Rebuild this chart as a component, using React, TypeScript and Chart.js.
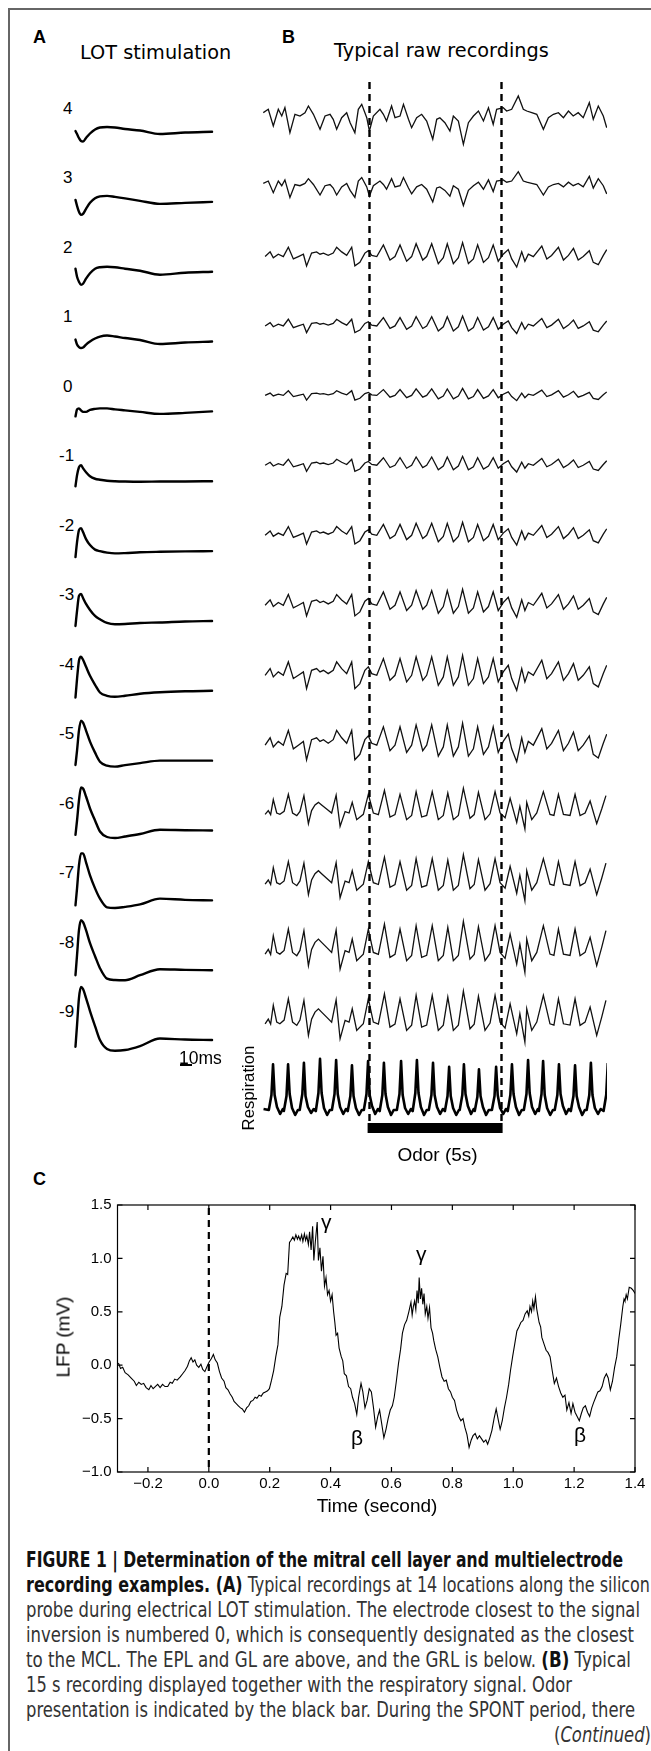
import React, { useEffect, useLayoutEffect, useRef } from 'react';
import { Chart, registerables } from 'chart.js';

Chart.register(...registerables);
if (typeof document !== 'undefined') document.body.style.margin = '0';

// ---------------- Panel A: LOT stimulation (evoked potentials) ----------------
const lotLabels = ['4', '3', '2', '1', '0', '-1', '-2', '-3', '-4', '-5', '-6', '-7', '-8', '-9'];
const lotTimeMs = [0.4, 1.7, 3.3, 5.0, 6.7, 9.2, 12.5, 16.7, 20.8, 26.7, 33.3, 41.7, 54.2, 70.8, 91.7, 114.2];
const lotP4 = [1, -2, -6, -9, -9.5, -6, -1.5, 2.5, 4.5, 5, 4.5, 3, 1.5, -2, -0.5, 0.3];
const lotP3 = [2, -4, -10, -13, -12, -7, -1, 3.5, 5.5, 6, 5, 3.5, 1, -2, -1, 0];
const lotP2 = [3, -5, -10, -13, -12, -7, -1.5, 3, 4.5, 5, 4.5, 3, 1, -3, -1, 0];
const lotP1 = [2, -3, -5.5, -6.5, -6, -3, 0, 3, 5, 6, 5, 3.5, 1.5, -2.5, -1, 0];
const lotZ0 = [-5, 2, 3, 1, -0.5, -0.5, 1.5, 2.5, 3, 3, 2, 1, -0.5, -2.5, -1.5, 0];
const lotM1 = [-5, 6, 14, 16, 13, 9, 5, 2.5, 1.5, 0.5, 0, -0.3, -0.5, -0.3, -0.2, 0];
const lotM2 = [-6, 9, 21, 23, 19, 12, 6, 1.5, 0, -1.5, -2.3, -2, -1.2, -0.7, -0.3, 0];
const lotM3 = [-5, 10, 25, 27, 23, 17, 11, 5, 1.7, -2, -3.3, -3, -2, -1.5, -0.5, 0];
const lotM4 = [-6.7, 12, 30, 34, 31, 24, 15, 6, -1.7, -5, -6, -5, -3, -1.5, -0.5, 0];
const lotM5 = [-4.3, 10, 30, 40, 38, 30, 19, 8, -1, -5, -6, -4.5, -2.5, 0, 0, 0];
const lotM6 = [-4.3, 10, 30, 43, 42, 34, 22, 10, -1, -6.5, -7.5, -6, -3.5, 0.7, 0.3, 0];
const lotM7 = [-5, 12, 35, 47, 47, 38, 25, 12, 1.7, -7, -7.7, -6.5, -4, 1.7, 0.5, 0];
const lotM8 = [-5, 15, 40, 50, 48, 40, 27, 14, 2, -8.5, -9.8, -10, -5, 1, 0.3, 0];
const lotM9 = [-6.7, 15, 42, 53, 51, 42, 29, 14, 0, -9, -10.7, -10, -6, 1.5, 0.5, 0];
const lotTraces = [lotP4, lotP3, lotP2, lotP1, lotZ0, lotM1, lotM2, lotM3, lotM4, lotM5, lotM6, lotM7, lotM8, lotM9];
const lotScaleBarMs = 10;

// ---------------- Panel B: raw recordings (time in s, amplitude in a.u.) ----------------
const recUpper: [number, number][] = [
  [0.01, 3.3], [0.20, 6.7], [0.39, -10], [0.58, 6.7], [0.71, 0], [0.83, 8.3], [1.02, -16.7], [1.21, 1.7],
  [1.40, 0], [1.59, 3.3], [1.72, 10], [1.91, 1.7], [2.16, -13.3], [2.35, 0], [2.54, 1.7], [2.66, -3.3],
  [2.79, -13.3], [2.98, -1.7], [3.17, 3.3], [3.30, -6.7], [3.48, -16.7], [3.61, 6.7], [3.74, 11.7], [3.93, -1.7],
  [4.03, -15], [4.18, 0], [4.43, 6.7], [4.56, 1.7], [4.68, -5], [4.87, 10], [5.00, -1.7], [5.19, 0],
  [5.32, 11.7], [5.51, -3.3], [5.63, -11.7], [5.82, -1.7], [6.01, 1.7], [6.20, -5], [6.43, -23.3], [6.58, -3.3],
  [6.70, -1.7], [6.89, -6.7], [7.08, -15], [7.21, 0], [7.40, -5], [7.59, -28.3], [7.78, -6.7], [7.97, 0],
  [8.16, 5], [8.35, -5], [8.54, 8.3], [8.72, -8.3], [8.85, 6.7], [9.10, 8.3], [9.23, 5], [9.42, 6.7],
  [9.67, 20], [9.86, 6.7], [9.99, 5], [10.18, 3.3], [10.37, 1.7], [10.62, -13.3], [10.81, -1.7], [11.00, 1.7],
  [11.19, 3.3], [11.38, -1.7], [11.57, 5], [11.75, 0], [11.94, 3.3], [12.13, -1.7], [12.36, 13.3], [12.51, -3.3],
  [12.70, 10], [12.89, 0], [13.02, -11.7],
];
const recMiddle: [number, number][] = [
  [0.08, -1.7], [0.27, 5], [0.39, -3.3], [0.58, 1.7], [0.77, -1.7], [0.96, 11.7], [1.15, -5], [1.34, -1.7],
  [1.53, 1.7], [1.65, -15], [1.84, 3.3], [2.03, 5], [2.16, 1.7], [2.29, 3.3], [2.47, 0], [2.66, 3.3],
  [2.79, 11.7], [2.98, 5], [3.17, 0], [3.36, 11.7], [3.48, -15], [3.67, -10], [3.86, 3.3], [3.99, 6.7],
  [4.12, 0], [4.31, -1.7], [4.56, 15], [4.81, -6.7], [5.00, -1.7], [5.19, 15], [5.44, -8.3], [5.63, -1.7],
  [5.80, 16.7], [6.05, -6.7], [6.20, -1.7], [6.39, 16.7], [6.64, -11.7], [6.83, -3.3], [6.98, 16.7], [7.21, -11.7],
  [7.40, -3.3], [7.56, 18.3], [7.78, -11.7], [7.97, -5], [8.13, 15], [8.35, -10], [8.54, -3.3], [8.72, 15],
  [8.91, -8.3], [9.10, 1.7], [9.29, 8.3], [9.42, -5], [9.61, -16.7], [9.80, 5], [9.92, -8.3], [10.05, 1.7],
  [10.24, -1.7], [10.56, 13.3], [10.75, -5], [10.93, 0], [11.19, 11.7], [11.38, -6.7], [11.57, 0], [11.76, 10],
  [11.94, -6.7], [12.13, -1.7], [12.36, 6.7], [12.51, -10], [12.70, -13.3], [12.89, 0], [13.02, 8.3],
];
const recDeep: [number, number][] = [
  [0.08, -1.7], [0.20, 3], [0.29, -2], [0.39, 16.7], [0.52, 0], [0.64, -1.7], [0.80, 2], [0.96, 23.3],
  [1.12, 0], [1.28, -3.3], [1.40, 2], [1.55, 21.7], [1.72, -13.3], [1.84, 3], [1.97, 10], [2.10, 13.3],
  [2.22, 10], [2.41, 5], [2.60, 0], [2.77, 22.3], [2.92, -16.7], [3.11, 1.7], [3.26, 0], [3.38, 13.3],
  [3.55, -8.3], [3.80, -1.7], [3.99, 23.3], [4.18, 0], [4.37, -2], [4.60, 28.3], [4.81, -5], [5.00, -2],
  [5.19, 23.3], [5.44, -8.3], [5.63, -3], [5.80, 26.7], [6.01, -5], [6.20, -3], [6.41, 26.7], [6.64, -8.3],
  [6.83, -3], [7.00, 25], [7.21, -8.3], [7.40, -3], [7.59, 31], [7.84, -6.7], [8.00, -2], [8.16, 25.7],
  [8.41, -8.3], [8.60, -1], [8.79, 26.7], [8.98, 0], [9.17, -6], [9.36, 18.3], [9.61, -11.7], [9.73, 8.3],
  [9.92, -20], [9.99, 13.3], [10.18, -8.3], [10.37, 0], [10.62, 26.7], [10.87, -1.7], [11.02, -3], [11.19, 23.3],
  [11.38, -1.7], [11.63, -3], [11.82, 23.3], [12.01, -3.3], [12.20, 0], [12.39, 15], [12.64, -13.3], [12.83, 5],
  [12.99, 21.7],
];
const bTemplates = [recUpper, recMiddle, recDeep];
const bRowTemplate = [0, 0, 1, 1, 1, 1, 1, 1, 1, 1, 2, 2, 2, 2];
const bRowGain = [1.0, 0.7, 0.7, 0.5, 0.35, 0.45, 0.65, 0.8, 1.0, 1.1, 0.8, 0.9, 1.0, 1.0];

const breathPeaks = [0.38, 0.95, 1.55, 2.16, 2.77, 3.37, 3.98, 4.58, 5.23, 5.83, 6.44, 7.05, 7.61, 8.18, 8.83, 9.43, 10.04, 10.61, 11.21, 11.82, 12.42, 13.06];
const respPhase = [-0.16, -0.06, 0, 0.06, 0.15, 0.27, 0.37];
const respStart: [number, number] = [0.02, 2];
const respValues = [
  [1, 16, 46.7, 16, 4, -3, 2],
  [0, 15, 46.7, 17, 3, -4, 1],
  [1, 17, 48.3, 15, 4, -2, 2],
  [0, 18, 52.3, 18, 3, -4, 1],
  [1, 17, 51, 17, 4, -3, 2],
  [0, 15, 45.7, 15, 3, -4, 1],
  [1, 17, 50, 16, 5, -3, 2],
  [0, 16, 48.3, 17, 4, -4, 1],
  [1, 17, 50, 16, 3, -3, 2],
  [0, 18, 51, 18, 4, -4, 1],
  [1, 16, 48.3, 16, 4, -3, 2],
  [0, 15, 44.3, 15, 3, -4, 1],
  [1, 16, 46.7, 17, 5, -3, 2],
  [0, 14, 41.7, 15, 4, -4, 1],
  [1, 15, 44.3, 16, 3, -3, 2],
  [0, 16, 46.7, 17, 4, -4, 1],
  [1, 17, 51, 18, 4, -3, 2],
  [0, 17, 50, 16, 3, -4, 1],
  [1, 16, 46.7, 17, 5, -3, 2],
  [0, 15, 45.7, 15, 4, -4, 1],
  [1, 16, 48.3, 16, 3, -3, 2],
  [0, 16, 48, 17, 4, -3, 1],
];
const odorOnset = 4.0;
const odorOffset = 9.0;
const bTimeMax = 13.03;

// ---------------- Panel C: LFP trace (time s, mV) ----------------
const lfpPoints: [number, number][] = [
  [-0.297, 0.02], [-0.29, -0.03], [-0.283, -0.02], [-0.275, -0.07], [-0.265, -0.09], [-0.255, -0.12], [-0.245, -0.15],
  [-0.238, -0.19], [-0.23, -0.16], [-0.222, -0.18], [-0.214, -0.17], [-0.206, -0.21], [-0.197, -0.23], [-0.19, -0.19],
  [-0.183, -0.22], [-0.176, -0.20], [-0.168, -0.18], [-0.16, -0.21], [-0.152, -0.18], [-0.144, -0.20], [-0.135, -0.20],
  [-0.127, -0.16], [-0.12, -0.17], [-0.112, -0.13], [-0.104, -0.14], [-0.094, -0.11], [-0.086, -0.08], [-0.078, -0.05],
  [-0.07, -0.01], [-0.064, 0.04], [-0.058, 0.07], [-0.052, 0.03], [-0.046, 0.05], [-0.04, 0.0], [-0.033, -0.02],
  [-0.026, 0.01], [-0.02, -0.04], [-0.013, -0.06], [-0.007, -0.02], [0.001, 0.03], [0.008, 0.06], [0.015, 0.10],
  [0.021, 0.05], [0.028, 0.02], [0.035, -0.06], [0.042, -0.12], [0.05, -0.15], [0.056, -0.21], [0.063, -0.23],
  [0.07, -0.27], [0.077, -0.30], [0.083, -0.34], [0.09, -0.36], [0.097, -0.38], [0.104, -0.40], [0.11, -0.41],
  [0.117, -0.44], [0.124, -0.40], [0.131, -0.38], [0.138, -0.34], [0.145, -0.33], [0.152, -0.30], [0.158, -0.31],
  [0.165, -0.28], [0.172, -0.29], [0.179, -0.26], [0.186, -0.25], [0.193, -0.24], [0.199, -0.22], [0.206, -0.14],
  [0.213, -0.05], [0.22, 0.08], [0.227, 0.19], [0.233, 0.45], [0.24, 0.55], [0.247, 0.75], [0.254, 0.86],
  [0.259, 0.85], [0.265, 1.15], [0.27, 1.17], [0.276, 1.20], [0.281, 1.17], [0.286, 1.22], [0.291, 1.18],
  [0.295, 1.21], [0.30, 1.17], [0.305, 1.22], [0.309, 1.16], [0.314, 1.23], [0.318, 1.17], [0.322, 1.21],
  [0.327, 1.13], [0.331, 1.25], [0.336, 1.08], [0.341, 1.30], [0.345, 0.98], [0.350, 1.16], [0.356, 1.34],
  [0.36, 0.98], [0.365, 1.10], [0.37, 0.88], [0.375, 1.02], [0.38, 0.74], [0.385, 0.82], [0.39, 0.66],
  [0.395, 0.70], [0.40, 0.60], [0.405, 0.66], [0.41, 0.50], [0.414, 0.40], [0.418, 0.28], [0.423, 0.30],
  [0.428, 0.16], [0.435, 0.08], [0.44, 0.04], [0.445, -0.08], [0.452, -0.10], [0.459, -0.20], [0.466, -0.22],
  [0.472, -0.30], [0.479, -0.36], [0.486, -0.46], [0.492, -0.30], [0.5, -0.17], [0.506, -0.25], [0.513, -0.40],
  [0.52, -0.33], [0.527, -0.22], [0.534, -0.25], [0.541, -0.40], [0.548, -0.58], [0.555, -0.48], [0.561, -0.42],
  [0.568, -0.55], [0.575, -0.68], [0.582, -0.60], [0.589, -0.50], [0.596, -0.42], [0.603, -0.38], [0.609, -0.30],
  [0.616, -0.15], [0.623, 0.015], [0.63, 0.15], [0.636, 0.30], [0.643, 0.38], [0.65, 0.42], [0.657, 0.50],
  [0.664, 0.59], [0.668, 0.47], [0.672, 0.55], [0.676, 0.60], [0.68, 0.52], [0.684, 0.70], [0.688, 0.58],
  [0.691, 0.82], [0.695, 0.62], [0.699, 0.72], [0.703, 0.57], [0.707, 0.67], [0.711, 0.48], [0.716, 0.55],
  [0.72, 0.44], [0.725, 0.54], [0.73, 0.35], [0.735, 0.30], [0.739, 0.23], [0.745, 0.15], [0.752, 0.08],
  [0.759, -0.02], [0.766, -0.11], [0.773, -0.15], [0.78, -0.14], [0.787, -0.22], [0.794, -0.25], [0.80, -0.30],
  [0.807, -0.33], [0.814, -0.42], [0.821, -0.48], [0.828, -0.52], [0.835, -0.50], [0.841, -0.58], [0.848, -0.65],
  [0.855, -0.77], [0.862, -0.70], [0.868, -0.66], [0.875, -0.64], [0.882, -0.69], [0.889, -0.66], [0.896, -0.69],
  [0.903, -0.72], [0.91, -0.70], [0.916, -0.74], [0.923, -0.68], [0.93, -0.61], [0.937, -0.50], [0.944, -0.41],
  [0.95, -0.50], [0.957, -0.60], [0.964, -0.52], [0.971, -0.40], [0.978, -0.30], [0.985, -0.18], [0.991, -0.05],
  [0.998, 0.08], [1.005, 0.20], [1.012, 0.32], [1.019, 0.36], [1.025, 0.40], [1.032, 0.42], [1.039, 0.48],
  [1.046, 0.51], [1.051, 0.46], [1.055, 0.55], [1.06, 0.50], [1.064, 0.60], [1.068, 0.53], [1.073, 0.64],
  [1.077, 0.53], [1.08, 0.48], [1.085, 0.40], [1.09, 0.36], [1.094, 0.26], [1.101, 0.20], [1.108, 0.14],
  [1.114, 0.12], [1.121, 0.08], [1.128, -0.05], [1.135, -0.17], [1.142, -0.12], [1.149, -0.20], [1.156, -0.26],
  [1.163, -0.30], [1.17, -0.28], [1.176, -0.42], [1.183, -0.35], [1.19, -0.45], [1.196, -0.36], [1.203, -0.44],
  [1.21, -0.48], [1.217, -0.52], [1.224, -0.45], [1.23, -0.40], [1.237, -0.38], [1.244, -0.44], [1.251, -0.48],
  [1.258, -0.40], [1.264, -0.35], [1.271, -0.30], [1.278, -0.25], [1.285, -0.24], [1.292, -0.20], [1.299, -0.12],
  [1.306, -0.08], [1.312, -0.12], [1.319, -0.23], [1.326, -0.15], [1.333, -0.02], [1.34, 0.08], [1.347, 0.25],
  [1.353, 0.38], [1.36, 0.55], [1.364, 0.62], [1.367, 0.60], [1.371, 0.66], [1.375, 0.62], [1.381, 0.73],
  [1.388, 0.72], [1.394, 0.70], [1.401, 0.67],
];
const cXTicks = [-0.2, 0.0, 0.2, 0.4, 0.6, 0.8, 1.0, 1.2, 1.4];
const cYTicks = [-1.0, -0.5, 0.0, 0.5, 1.0, 1.5];
const cStimTime = 0.0;

// ---------------- Caption ----------------
type Seg = { t: string; b?: boolean; i?: boolean };
const captionLines: Seg[][] = [
  [{ t: 'FIGURE 1 | Determination of the mitral cell layer and multielectrode', b: true }],
  [{ t: 'recording examples. (A)', b: true }, { t: ' Typical recordings at 14 locations along the silicon' }],
  [{ t: 'probe during electrical LOT stimulation. The electrode closest to the signal' }],
  [{ t: 'inversion is numbered 0, which is consequently designated as the closest' }],
  [{ t: 'to the MCL. The EPL and GL are above, and the GRL is below. ' }, { t: '(B)', b: true }, { t: ' Typical' }],
  [{ t: '15 s recording displayed together with the respiratory signal. Odor' }],
  [{ t: 'presentation is indicated by the black bar. During the SPONT period, there' }],
  [{ t: '(' }, { t: 'Continued', i: true }, { t: ')' }],
];
const captionSpan: [number, number][] = [[26, 623], [26, 650], [26, 640], [26, 634], [26, 631], [26, 572], [26, 635], [554, 651]];

// ---------------- layout constants ----------------
const SANS = '"Liberation Sans", Arial, Helvetica, sans-serif';
const DEJAVU = '"DejaVu Sans", sans-serif';
const NARROW = '"Liberation Sans Narrow", "Arial Narrow", "DejaVu Sans Condensed", "Liberation Sans", sans-serif';

const A_LEFT = 60, A_TOP = 90, A_W = 160, A_H = 1000;
const A_ROW_STEP = 69.85;
const B_LEFT = 263, B_TOP = 70, B_W = 344, B_H = 1080;
const B_ROW0 = 46, B_ROW_STEP = 69.7;
const RESP_BASE = 1041;
const ODOR_TOP = -1053, ODOR_BOTTOM = -1063, DASH_TOP = -12;
const C_LEFT = 0, C_TOP = 1190, C_W = 651, C_H = 340;

function baseOpts(): any {
  return {
    responsive: false,
    animation: false,
    devicePixelRatio: 1,
    events: [],
    layout: { padding: 0 },
    plugins: { legend: { display: false }, tooltip: { enabled: false }, title: { display: false } },
    elements: { point: { radius: 0 } },
  };
}

function PanelA() {
  const ref = useRef<HTMLCanvasElement>(null);
  useEffect(() => {
    const chart = new Chart(ref.current!, {
      type: 'line',
      data: {
        datasets: lotTraces.map((vals, i) => ({
          data: lotTimeMs.map((t, k) => ({ x: t, y: vals[k] - i * A_ROW_STEP })),
          borderColor: '#000',
          borderWidth: 2.4,
          pointRadius: 0,
          cubicInterpolationMode: 'monotone',
          fill: false,
          borderJoinStyle: 'round',
          borderCapStyle: 'round',
        })),
      },
      options: {
        ...baseOpts(),
        scales: {
          x: { type: 'linear', min: -12.5, max: 120.83, display: false },
          y: { type: 'linear', min: -958, max: 42, display: false },
        },
      },
    } as any);
    return () => chart.destroy();
  }, []);
  return <canvas ref={ref} width={A_W} height={A_H} style={{ position: 'absolute', left: A_LEFT, top: A_TOP }} />;
}

const bPlugin = {
  id: 'bMarks',
  afterDatasetsDraw(chart: any) {
    const { ctx, scales } = chart;
    const x = scales.x, y = scales.y;
    ctx.save();
    ctx.strokeStyle = '#000';
    ctx.lineWidth = 2.4;
    ctx.setLineDash([7, 5]);
    for (const t of [odorOnset, odorOffset]) {
      const px = Math.round(x.getPixelForValue(t)) + 0.5;
      ctx.beginPath();
      ctx.moveTo(px, y.getPixelForValue(DASH_TOP));
      ctx.lineTo(px, y.getPixelForValue(ODOR_TOP));
      ctx.stroke();
    }
    ctx.setLineDash([]);
    ctx.fillStyle = '#000';
    const x0 = x.getPixelForValue(odorOnset) - 1;
    const x1 = x.getPixelForValue(odorOffset) + 2;
    const y0 = y.getPixelForValue(ODOR_TOP);
    const y1 = y.getPixelForValue(ODOR_BOTTOM);
    ctx.fillRect(x0, y0, x1 - x0, y1 - y0);
    ctx.restore();
  },
};

function PanelB() {
  const ref = useRef<HTMLCanvasElement>(null);
  useEffect(() => {
    const rows = bRowTemplate.map((ti, i) => ({
      data: bTemplates[ti].map(([t, v]) => ({ x: t, y: v * bRowGain[i] - (B_ROW0 + i * B_ROW_STEP) })),
      borderColor: '#111',
      borderWidth: 1.3,
      pointRadius: 0,
      tension: 0,
      fill: false,
    }));
    const respData: { x: number; y: number }[] = [{ x: respStart[0], y: respStart[1] - RESP_BASE }];
    breathPeaks.forEach((tp, k) => {
      respPhase.forEach((ph, j) => respData.push({ x: tp + ph, y: respValues[k][j] - RESP_BASE }));
    });
    const chart = new Chart(ref.current!, {
      type: 'line',
      data: {
        datasets: [
          ...rows,
          { data: respData, borderColor: '#000', borderWidth: 2.6, pointRadius: 0, tension: 0, fill: false, borderJoinStyle: 'round' },
        ],
      },
      options: {
        ...baseOpts(),
        scales: {
          x: { type: 'linear', min: 0, max: bTimeMax, display: false },
          y: { type: 'linear', min: -B_H, max: 0, display: false },
        },
      },
      plugins: [bPlugin],
    } as any);
    return () => chart.destroy();
  }, []);
  return <canvas ref={ref} width={B_W} height={B_H} style={{ position: 'absolute', left: B_LEFT, top: B_TOP }} />;
}

const cPlugin = {
  id: 'cFrame',
  afterDatasetsDraw(chart: any) {
    const { ctx, chartArea: a, scales } = chart;
    const x = scales.x, y = scales.y;
    ctx.save();
    ctx.strokeStyle = '#000';
    ctx.lineWidth = 1.2;
    ctx.strokeRect(a.left, a.top, a.right - a.left, a.bottom - a.top);
    const L = 5;
    ctx.beginPath();
    for (const v of cXTicks) {
      const px = x.getPixelForValue(v);
      ctx.moveTo(px, a.bottom); ctx.lineTo(px, a.bottom - L);
      ctx.moveTo(px, a.top); ctx.lineTo(px, a.top + L);
    }
    for (const v of cYTicks) {
      const py = y.getPixelForValue(v);
      ctx.moveTo(a.left, py); ctx.lineTo(a.left + L, py);
      ctx.moveTo(a.right, py); ctx.lineTo(a.right - L, py);
    }
    ctx.stroke();
    ctx.setLineDash([7, 5]);
    ctx.lineWidth = 2.2;
    const sx = x.getPixelForValue(cStimTime);
    ctx.beginPath();
    ctx.moveTo(sx, a.top + 3);
    ctx.lineTo(sx, a.bottom);
    ctx.stroke();
    ctx.restore();
  },
};

const fmtTick = (v: any) => Number(v).toFixed(1).replace('-', '\u2212');

function PanelC() {
  const ref = useRef<HTMLCanvasElement>(null);
  useEffect(() => {
    const chart = new Chart(ref.current!, {
      type: 'line',
      data: {
        datasets: [
          {
            data: lfpPoints.map(([t, v]) => ({ x: t, y: v })),
            borderColor: '#000',
            borderWidth: 1.1,
            pointRadius: 0,
            tension: 0,
            fill: false,
          },
        ],
      },
      options: {
        ...baseOpts(),
        layout: { padding: { left: 0, right: 16, top: 15, bottom: 0 } },
        scales: {
          x: {
            type: 'linear', min: -0.3, max: 1.4,
            grid: { display: false, drawTicks: false },
            border: { display: false },
            ticks: { padding: 3, color: '#000', font: { family: SANS, size: 15 }, callback: fmtTick, maxRotation: 0, autoSkip: false },
            afterBuildTicks: (s: any) => { s.ticks = cXTicks.map((v) => ({ value: v })); },
            afterFit: (s: any) => { s.height = 58; },
          },
          y: {
            type: 'linear', min: -1.0, max: 1.5,
            grid: { display: false, drawTicks: false },
            border: { display: false },
            ticks: { padding: 6, color: '#000', font: { family: SANS, size: 15 }, callback: fmtTick, autoSkip: false },
            afterBuildTicks: (s: any) => { s.ticks = cYTicks.map((v) => ({ value: v })); },
            afterFit: (s: any) => { s.width = 117.5; },
          },
        },
      },
      plugins: [cPlugin],
    } as any);
    return () => chart.destroy();
  }, []);
  return <canvas ref={ref} width={C_W} height={C_H} style={{ position: 'absolute', left: C_LEFT, top: C_TOP }} />;
}

function Txt(props: { x: number; y: number; size: number; family?: string; bold?: boolean; children: React.ReactNode; color?: string }) {
  return (
    <div
      style={{
        position: 'absolute', left: props.x, top: props.y, fontSize: props.size, lineHeight: `${props.size}px`,
        fontFamily: props.family || SANS, fontWeight: props.bold ? 700 : 400, whiteSpace: 'pre', color: props.color || '#000',
      }}
    >
      {props.children}
    </div>
  );
}

function Rot(props: { cx: number; cy: number; size: number; children: React.ReactNode }) {
  return (
    <div
      style={{
        position: 'absolute', left: props.cx, top: props.cy, fontSize: props.size, lineHeight: `${props.size}px`,
        fontFamily: SANS, whiteSpace: 'pre', transform: 'translate(-50%, -50%) rotate(-90deg)', color: '#000',
      }}
    >
      {props.children}
    </div>
  );
}

function Caption() {
  const refs = useRef<(HTMLDivElement | null)[]>([]);
  useLayoutEffect(() => {
    refs.current.forEach((el, i) => {
      if (!el) return;
      el.style.transform = 'none';
      const w = el.getBoundingClientRect().width;
      const [l, r] = captionSpan[i];
      if (w > 0) el.style.transform = `scaleX(${(r - l) / w})`;
    });
  }, []);
  const F = 20.5;
  return (
    <>
      {captionLines.map((segs, i) => (
        <div
          key={i}
          ref={(el) => { refs.current[i] = el; }}
          style={{
            position: 'absolute', left: captionSpan[i][0], top: 1567 + 25 * i - 0.846 * F, fontSize: F, lineHeight: `${F}px`,
            fontFamily: NARROW, whiteSpace: 'pre', transformOrigin: '0 0', color: '#333',
          }}
        >
          {segs.map((s, k) => (
            <span key={k} style={{ fontWeight: s.b ? 700 : 400, fontStyle: s.i ? 'italic' : 'normal', color: s.b ? '#111' : '#333' }}>
              {s.t}
            </span>
          ))}
        </div>
      ))}
    </>
  );
}

export default function App() {
  return (
    <div style={{ position: 'absolute', left: 0, top: 0, width: 651, height: 1751, overflow: 'hidden', background: '#fff' }}>
      <div style={{ position: 'absolute', left: 8, top: 8, width: 660, height: 2, background: '#666' }} />
      <div style={{ position: 'absolute', left: 8, top: 8, width: 2, height: 1760, background: '#666' }} />

      <Txt x={33} y={27.6} size={18} bold>A</Txt>
      <Txt x={80} y={42.5} size={19.3} family={DEJAVU}>LOT stimulation</Txt>
      <Txt x={282} y={27.6} size={18} bold>B</Txt>
      <Txt x={334} y={41} size={19.3} family={DEJAVU}>Typical raw recordings</Txt>

      {lotLabels.map((lab, i) => (
        <Txt key={lab} x={lab.startsWith('-') ? 59 : 63} y={102 + 69.5 * i - 2.2} size={17}>{lab}</Txt>
      ))}

      <PanelA />
      <PanelB />

      <Txt x={179} y={1049.6} size={17.5}>{`${lotScaleBarMs}ms`}</Txt>
      <div style={{ position: 'absolute', left: 180, top: 1064, width: 12, height: 1.6, background: '#000' }} />

      <Rot cx={248.7} cy={1087.5} size={16.8}>Respiration</Rot>
      <div style={{ position: 'absolute', left: 437.5, top: 1144.5, transform: 'translateX(-50%)', fontSize: 19, lineHeight: '19px', fontFamily: SANS, whiteSpace: 'pre' }}>
        Odor (5s)
      </div>

      <Txt x={33} y={1169.6} size={18} bold>C</Txt>
      <PanelC />
      <Txt x={321} y={1210.5} size={21}>γ</Txt>
      <Txt x={416} y={1242.5} size={21}>γ</Txt>
      <Txt x={351} y={1427} size={21}>β</Txt>
      <Txt x={574} y={1424} size={21}>β</Txt>
      <div style={{ position: 'absolute', left: 377, top: 1495.5, transform: 'translateX(-50%)', fontSize: 19, lineHeight: '19px', fontFamily: SANS, whiteSpace: 'pre' }}>
        Time (second)
      </div>
      <Rot cx={63} cy={1337} size={19}>LFP (mV)</Rot>

      <Caption />
    </div>
  );
}
